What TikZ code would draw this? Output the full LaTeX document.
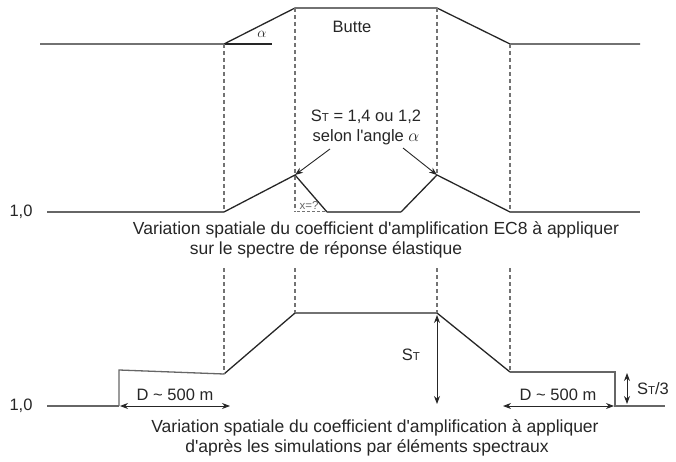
\documentclass[tikz,border=0pt]{standalone}
\usepackage{fontspec}
\setmainfont{Liberation Sans}[Ligatures=TeXOff]
\usetikzlibrary{arrows.meta}
\newcommand{\ST}{S{\fontsize{11.5}{12}\selectfont T}}
\newcommand{\ap}{'}
\begin{document}
\begin{tikzpicture}[x=1pt,y=-1pt,
  prof/.style={draw=black!85,line width=1.3pt,line join=miter},
  base/.style={draw=black!60,line width=1.3pt},
  guide/.style={draw=black!55,line width=1.2pt,dash pattern=on 4pt off 3pt},
  lab/.style={font=\fontsize{16.5}{18}\selectfont,text=black!85,inner sep=0pt},
  captext/.style={font=\fontsize{17.5}{19}\selectfont,text=black!85,inner sep=0pt},
  dim/.style={draw=black!85,line width=0.9pt,{Stealth[length=8pt,width=6pt]}-{Stealth[length=8pt,width=6pt]}},
  ptr/.style={draw=black!85,line width=0.9pt,-{Stealth[length=8pt,width=6pt]}}]
\useasboundingbox (0,0) rectangle (676,462);
% ---------- top profile
\coordinate (t0) at (40,44);
\coordinate (t1) at (224,44);
\coordinate (t2) at (295,8);
\coordinate (t3) at (437,8);
\coordinate (t4) at (510,44);
\coordinate (t5) at (640,44);
\coordinate (ta) at (272,44);
\draw[prof] (t0) -- (t1) -- (t2) -- (t3) -- (t4) -- (t5);
\draw[prof] (t1) -- (ta);
\node[lab] (butte) at (352,27) {Butte};
\node[inner sep=0pt,text=black!85,font=\fontsize{15}{16}\selectfont] (alpha) at (262,34) {$\alpha$};
% ---------- middle profile
\coordinate (m0) at (47,212);
\coordinate (m1) at (224,212);
\coordinate (m2) at (295,175);
\coordinate (m3) at (327,212);
\coordinate (m4) at (401,212);
\coordinate (m5) at (437,175);
\coordinate (m6) at (510,212);
\coordinate (m7) at (640,212);
\draw[base] (m0) -- (m1);
\draw[prof] (m1) -- (m2) -- (m3);
\draw[base] (m3) -- (m4);
\draw[prof] (m4) -- (m5) -- (m6);
\draw[base] (m6) -- (m7);
\node[lab] (one1) at (21,212) {1,0};
% guides top
\draw[guide] (t1) -- (m1);
\draw[guide] (t2) -- (295,212);
\draw[guide] (t3) -- (m5);
\draw[guide] (t4) -- (m6);
% x=?
\coordinate (xa) at (297,211);
\coordinate (xb) at (326,211);
\draw[guide,line width=0.9pt,dash pattern=on 3pt off 2pt] (xa) -- (xb);
\node[inner sep=0pt,font=\fontsize{11.5}{12}\selectfont,text=black!60] (xq) at (309,205) {x=?};
% St label
\node[lab] (st1) at (366,117) {\ST\ = 1,4 ou 1,2};
\node[lab] (st2) at (366,137) {selon l\ap angle $\alpha$};
\draw[ptr] (330,149) -- (m2);
\draw[ptr] (403,148) -- (m5);
% caption 1
\node[captext] (c1) at (376,230) {Variation spatiale du coefficient d\ap amplification EC8 à appliquer};
\node[captext] (c2) at (326,250) {sur le spectre de réponse élastique};
% ---------- bottom profile
\coordinate (b0) at (47,406);
\coordinate (b1) at (119,406);
\coordinate (b2) at (119,370);
\coordinate (b3) at (224,374);
\coordinate (b4) at (295,313);
\coordinate (b5) at (437,313);
\coordinate (b6) at (510,372);
\coordinate (b7) at (615,372);
\coordinate (b8) at (615,406);
\coordinate (b9) at (665,406);
\draw[base] (b0) -- (b1);
\draw[base] (b1) -- (b2) -- (b3);
\draw[prof] (b3) -- (b4) -- (b5) -- (b6);
\draw[base] (b6) -- (b7) -- (b8) -- (b9);
\node[lab] (one2) at (21,406) {1,0};
% guides bottom
\draw[guide] (224,268) -- (b3);
\draw[guide] (295,268) -- (b4);
\draw[guide] (437,268) -- (b5);
\draw[guide] (510,268) -- (b6);
% dimensions
\coordinate (d1a) at (120,406);
\coordinate (d1b) at (230,406);
\draw[dim] (d1a) -- (d1b);
\node[lab] (dl) at (175,395) {D \textasciitilde\ 500 m};
\coordinate (d2a) at (503,406);
\coordinate (d2b) at (614,406);
\draw[dim] (d2a) -- (d2b);
\node[lab] (dr) at (558,395) {D \textasciitilde\ 500 m};
\coordinate (s1a) at (437,315);
\coordinate (s1b) at (437,404);
\draw[dim] (s1a) -- (s1b);
\node[lab] (stm) at (411,355) {\ST};
\coordinate (s2a) at (627,373);
\coordinate (s2b) at (627,404);
\draw[dim] (s2a) -- (s2b);
\node[lab] (st3) at (653,389) {\ST/3};
% caption 2
\node[captext] (c3) at (375,428) {Variation spatiale du coefficient d\ap amplification à appliquer};
\node[captext] (c4) at (367,448) {d\ap après les simulations par éléments spectraux};
\end{tikzpicture}
\end{document}
